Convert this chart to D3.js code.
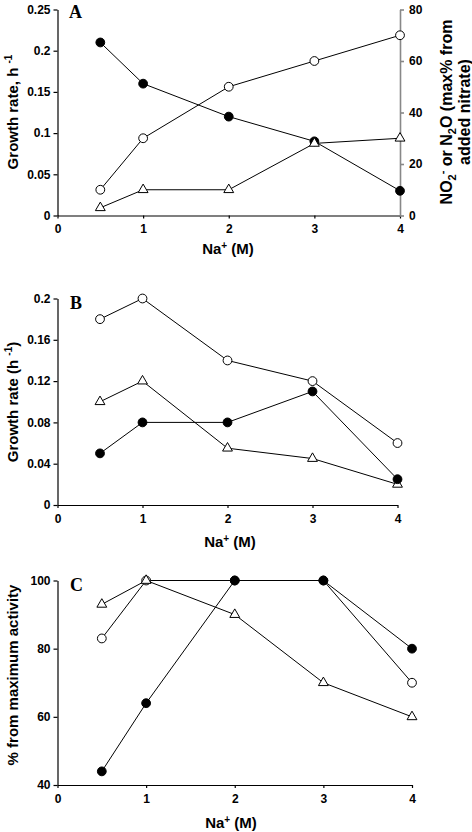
<!DOCTYPE html>
<html><head><meta charset="utf-8">
<script src="https://cdn.jsdelivr.net/npm/d3@7"></script>
<style>
body{margin:0;background:#fff;}
svg{display:block;}
text{font-family:"Liberation Sans",Arial,sans-serif;font-weight:bold;fill:#000;}
</style></head>
<body>
<svg id="c" width="472" height="832"></svg>
<script>
const naX = [0.5, 1, 2, 3, 4];
const xTicks = [0, 1, 2, 3, 4];

// Panel A
const aGrowth = [0.21, 0.16, 0.12, 0.09, 0.03];        // filled circles, left axis
const aOpen = [10, 30, 50, 60, 70];                    // open circles, right axis
const aTri = [3, 10, 10, 28, 30];                      // triangles, right axis
const aLeftTicks = [0, 0.05, 0.1, 0.15, 0.2, 0.25];
const aLeftLabels = ["0", "0.05", "0.1", "0.15", "0.2", "0.25"];
const aRightTicks = [0, 20, 40, 60, 80];

// Panel B
const bOpen = [0.18, 0.2, 0.14, 0.12, 0.06];
const bTri = [0.1, 0.12, 0.055, 0.045, 0.02];
const bFilled = [0.05, 0.08, 0.08, 0.11, 0.025];
const bTicks = [0, 0.04, 0.08, 0.12, 0.16, 0.2];
const bLabels = ["0", "0.04", "0.08", "0.12", "0.16", "0.2"];

// Panel C
const cFilled = [44, 64, 100, 100, 80];
const cOpen = [83, 100, 100, 100, 70];
const cTri = [93, 100, 90, 70, 60];
const cTicks = [40, 60, 80, 100];

const svg = d3.select("#c");

function drawAxes(g, x, y, yTicks, yLabels) {
  const xa = g.append("g").attr("transform", `translate(0,${y.range()[0]})`)
    .call(d3.axisBottom(x).tickValues(xTicks).tickFormat(d3.format("d")).tickSize(3).tickSizeOuter(0).tickPadding(6));
  const ya = g.append("g").attr("transform", `translate(${x.range()[0]},0)`)
    .call(d3.axisLeft(y).tickValues(yTicks).tickFormat((d, i) => yLabels[i]).tickSize(4).tickSizeOuter(0).tickPadding(3));
  [xa, ya].forEach(a => {
    a.selectAll("path,line").attr("stroke", "#000").attr("stroke-width", 1.2);
    a.selectAll("text").attr("font-size", 12).attr("font-family", '"Liberation Sans",Arial,sans-serif').attr("font-weight", "bold").attr("fill", "#000");
  });
}

function series(g, x, y, vals, kind) {
  const line = d3.line().x((d, i) => x(naX[i])).y(d => y(d));
  g.append("path").attr("d", line(vals)).attr("fill", "none").attr("stroke", "#000").attr("stroke-width", 1);
  const pts = g.append("g").selectAll("g").data(vals).join("g")
    .attr("transform", (d, i) => `translate(${x(naX[i])},${y(d)})`);
  if (kind === "tri") {
    pts.append("path").attr("d", d3.symbol(d3.symbolTriangle, 42)())
      .attr("fill", "#fff").attr("stroke", "#000").attr("stroke-width", 1);
  } else {
    pts.append("circle").attr("r", 4.4)
      .attr("fill", kind === "filled" ? "#000" : "#fff").attr("stroke", "#000").attr("stroke-width", 1);
  }
}

function xTitle(g, cx, base) {
  const t = g.append("text").attr("x", cx).attr("y", base).attr("text-anchor", "middle").attr("font-size", 15);
  t.append("tspan").text("Na");
  t.append("tspan").attr("font-size", 10).attr("dy", -5).text("+");
  t.append("tspan").attr("dy", 5).text(" (M)");
}

function panelLetter(g, x, y, s) {
  g.append("text").attr("x", x).attr("y", y).attr("font-size", 18)
    .style("font-family", '"Liberation Serif","Times New Roman",serif').text(s);
}

// ---------- Panel A ----------
{
  const g = svg.append("g");
  const x = d3.scaleLinear().domain([0, 4]).range([57.5, 400]);
  const y = d3.scaleLinear().domain([0, 0.25]).range([215.5, 9.5]);
  const yR = d3.scaleLinear().domain([0, 80]).range([215.5, 9.5]);
  drawAxes(g, x, y, aLeftTicks, aLeftLabels);
  const ra = g.append("g").attr("transform", `translate(400,0)`)
    .call(d3.axisRight(yR).tickValues(aRightTicks).tickSize(4).tickSizeOuter(0).tickPadding(5));
  ra.selectAll("path,line").attr("stroke", "#888").attr("stroke-width", 1.6);
  ra.selectAll("text").attr("font-size", 12).attr("font-family", '"Liberation Sans",Arial,sans-serif').attr("font-weight", "bold").attr("fill", "#000");
  series(g, x, y, aGrowth, "filled");
  series(g, x, yR, aOpen, "open");
  series(g, x, yR, aTri, "tri");
  panelLetter(g, 69, 18, "A");
  const t = g.append("text").attr("transform", "translate(18,112) rotate(-90)").attr("text-anchor", "middle").attr("font-size", 15);
  t.append("tspan").text("Growth rate, h ");
  t.append("tspan").attr("font-size", 10).attr("dy", -6).text("-1");
  const r1 = g.append("text").attr("transform", "translate(452,112) rotate(-90)").attr("text-anchor", "middle").attr("font-size", 16);
  r1.append("tspan").text("NO");
  r1.append("tspan").attr("font-size", 11).attr("dy", 4).text("2");
  r1.append("tspan").attr("font-size", 11).attr("dy", -10).text("-");
  r1.append("tspan").attr("dy", 6).text(" or N");
  r1.append("tspan").attr("font-size", 11).attr("dy", 4).text("2");
  r1.append("tspan").attr("dy", -4).text("O (max% from");
  g.append("text").attr("transform", "translate(470,112) rotate(-90)").attr("text-anchor", "middle").attr("font-size", 16).text("added nitrate)");
  xTitle(g, 228, 254);
}

// ---------- Panel B ----------
{
  const g = svg.append("g");
  const x = d3.scaleLinear().domain([0, 4]).range([57.5, 397.5]);
  const y = d3.scaleLinear().domain([0, 0.2]).range([505, 298.5]);
  drawAxes(g, x, y, bTicks, bLabels);
  series(g, x, y, bOpen, "open");
  series(g, x, y, bTri, "tri");
  series(g, x, y, bFilled, "filled");
  panelLetter(g, 70, 309, "B");
  const t = g.append("text").attr("transform", "translate(18,402) rotate(-90)").attr("text-anchor", "middle").attr("font-size", 15);
  t.append("tspan").text("Growth rate (h ");
  t.append("tspan").attr("font-size", 10).attr("dy", -6).text("-1");
  t.append("tspan").attr("dy", 6).text(")");
  xTitle(g, 230, 547);
}

// ---------- Panel C ----------
{
  const g = svg.append("g");
  const x = d3.scaleLinear().domain([0, 4]).range([57.5, 412]);
  const y = d3.scaleLinear().domain([40, 100]).range([785, 580.5]);
  drawAxes(g, x, y, cTicks, cTicks.map(String));
  series(g, x, y, cOpen, "open");
  series(g, x, y, cTri, "tri");
  series(g, x, y, cFilled, "filled");
  panelLetter(g, 70, 591, "C");
  g.append("text").attr("transform", "translate(18,675) rotate(-90)").attr("text-anchor", "middle").attr("font-size", 15).text("% from maximum activity");
  xTitle(g, 231, 828);
}
</script>
</body></html>
